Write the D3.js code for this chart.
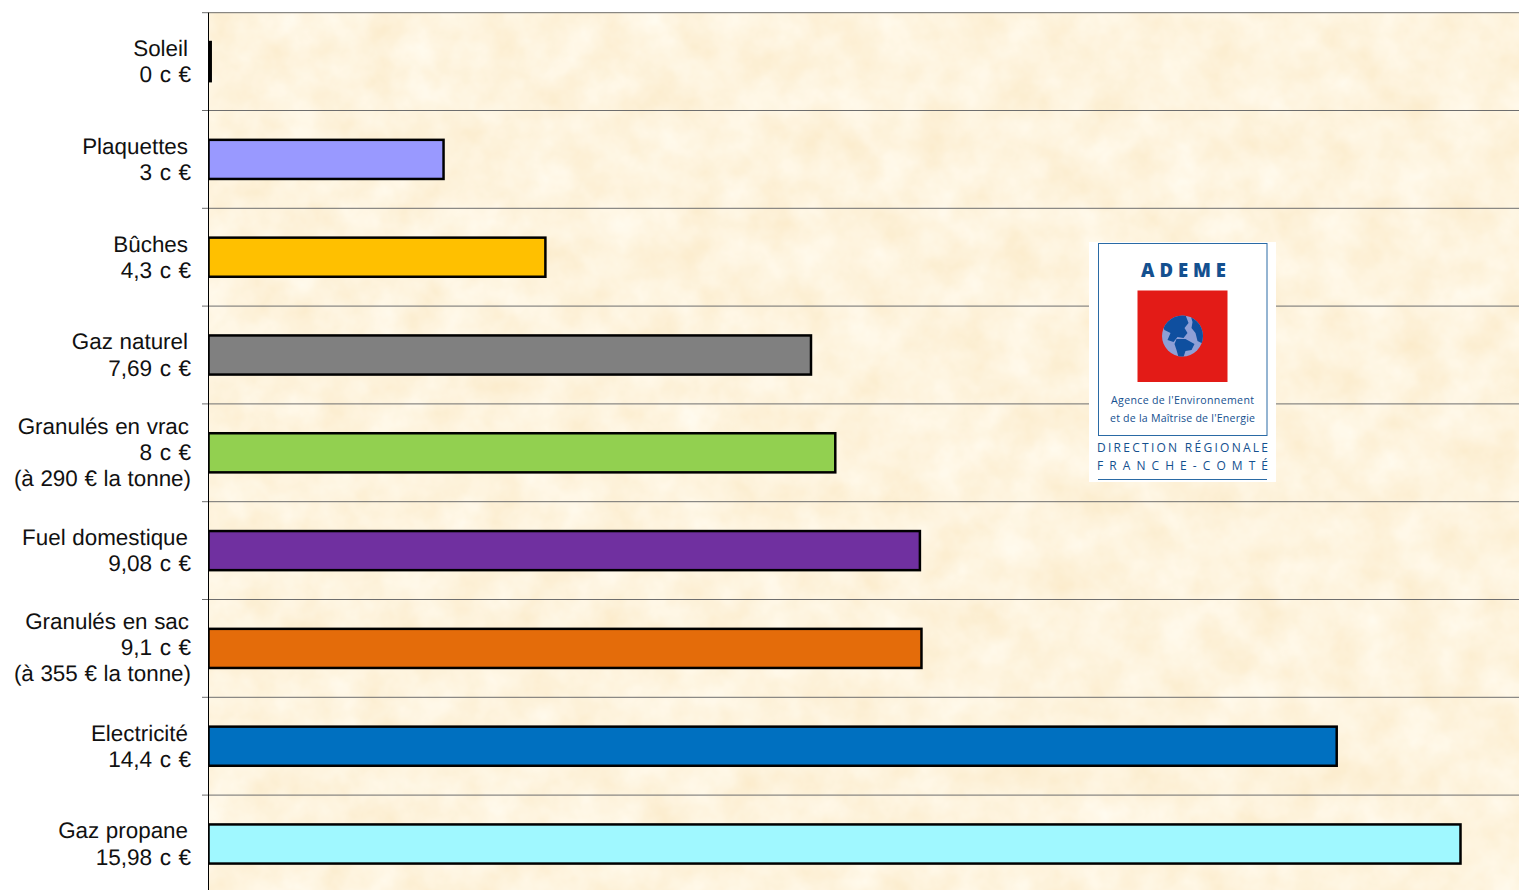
<!DOCTYPE html>
<html lang="fr">
<head>
<meta charset="utf-8">
<title>Prix des énergies</title>
<script src="https://cdn.jsdelivr.net/npm/d3@7"></script>
<style>
    html, body { margin: 0; padding: 0; background: #fff; overflow: hidden; }
    svg { display: block; }
    .label { font-family: "Liberation Sans", Arial, sans-serif; font-size: 22.4px; word-spacing: 0.4px; fill: #111; text-rendering: geometricPrecision; }
    .label.value { font-size: 22.6px; word-spacing: 1.2px; }
    .logo-text { font-family: "Open Sans", sans-serif; fill: #14508f; }
</style>
</head>
<body>
<div id="chart"></div>
<script>
// Chart data
const categories = ["Soleil", "Plaquettes", "Bûches", "Gaz naturel", "Granulés en vrac", "Fuel domestique", "Granulés en sac", "Electricité", "Gaz propane"];
const values = [0, 3, 4.3, 7.69, 8, 9.08, 9.1, 14.4, 15.98];
const valueLabels = ["0 c €", "3 c €", "4,3 c €", "7,69 c €", "8 c €", "9,08 c €", "9,1 c €", "14,4 c €", "15,98 c €"];
const notes = ["", "", "", "", "(à 290 € la tonne)", "", "(à 355 € la tonne)", "", ""];
const barColors = ["#000000", "#9999ff", "#ffc000", "#808080", "#92d050", "#7030a0", "#e46c0a", "#0070c0", "#a0f8ff"];

const width = 1519;
const height = 890;
const margin = { top: 12.7, left: 208.5 };

const svg = d3.select("#chart")
    .append("svg")
    .attr("width", width)
    .attr("height", height);

const defs = svg.append("defs");

// Parchment texture for the plot background
const paper = defs.append("filter")
    .attr("id", "paper")
    .attr("x", 0).attr("y", 0).attr("width", "100%").attr("height", "100%")
    .attr("color-interpolation-filters", "sRGB");
paper.append("feTurbulence")
    .attr("type", "fractalNoise")
    .attr("baseFrequency", 0.025)
    .attr("numOctaves", 4)
    .attr("seed", 7);
paper.append("feColorMatrix")
    .attr("type", "matrix")
    .attr("values", "0.02 0 0 0 0.985  0.07 0 0 0 0.92  0.16 0 0 0 0.79  0 0 0 0 1");

defs.append("clipPath")
    .attr("id", "plot-clip")
    .append("rect")
    .attr("x", margin.left - 0.5)
    .attr("y", 0)
    .attr("width", width)
    .attr("height", height);

// Scales
const xScale = d3.scaleLinear()
    .domain([0, 15.98])
    .range([margin.left, 1460.5]);

const yScale = d3.scaleBand()
    .domain(categories)
    .range([margin.top, margin.top + 97.8 * categories.length])
    .paddingInner(0.6)
    .paddingOuter(0.3);

const rowTop = d => yScale(d) - yScale.step() * 0.3;
const rowMiddle = d => yScale(d) + yScale.bandwidth() / 2;

// Background
svg.append("rect")
    .attr("x", margin.left)
    .attr("y", margin.top)
    .attr("width", width - margin.left)
    .attr("height", height - margin.top)
    .attr("filter", "url(#paper)");

// Grid lines between the rows, with their tick on the left
svg.append("g")
    .selectAll("line")
    .data(categories)
    .enter().append("line")
    .attr("x1", margin.left - 6.5)
    .attr("x2", width)
    .attr("y1", d => rowTop(d))
    .attr("y2", d => rowTop(d))
    .attr("stroke", "#6e6e6e")
    .attr("stroke-width", 1);

// Bars
svg.append("g")
    .attr("clip-path", "url(#plot-clip)")
    .selectAll("rect")
    .data(categories)
    .enter().append("rect")
    .attr("x", xScale(0))
    .attr("y", d => yScale(d))
    .attr("width", (d, i) => Math.max(xScale(values[i]) - xScale(0), 2.2)) // zero value still shows a thin bar
    .attr("height", yScale.bandwidth())
    .attr("fill", (d, i) => barColors[i])
    .attr("stroke", "#000")
    .attr("stroke-width", 2.5);

// Vertical axis line
svg.append("line")
    .attr("x1", margin.left)
    .attr("x2", margin.left)
    .attr("y1", margin.top)
    .attr("y2", height)
    .attr("stroke", "#000")
    .attr("stroke-width", 1);

// Category labels, two or three lines
const labels = svg.append("g").selectAll("g")
    .data(categories)
    .enter().append("g")
    .attr("transform", d => `translate(0,${rowMiddle(d)})`);

labels.append("text")
    .attr("class", "label")
    .attr("x", (d, i) => notes[i] ? 189 : 188)
    .attr("y", (d, i) => notes[i] ? -19 : -5.6)
    .attr("text-anchor", "end")
    .text(d => d);

labels.append("text")
    .attr("class", "label value")
    .attr("x", 191)
    .attr("y", (d, i) => notes[i] ? 7 : 20.5)
    .attr("text-anchor", "end")
    .text((d, i) => valueLabels[i]);

labels.filter((d, i) => notes[i] !== "").append("text")
    .attr("class", "label")
    .attr("x", 191)
    .attr("y", 33)
    .attr("text-anchor", "end")
    .text(d => notes[categories.indexOf(d)]);

// ADEME logo
const logo = svg.append("g").attr("transform", "translate(1089,242)");

logo.append("rect").attr("width", 187).attr("height", 240).attr("fill", "#fff");
logo.append("rect")
    .attr("x", 9.5).attr("y", 1.5)
    .attr("width", 168.5).attr("height", 192)
    .attr("fill", "none")
    .attr("stroke", "#2a6aa5")
    .attr("stroke-width", 1);
logo.append("rect")
    .attr("x", 48.5).attr("y", 48.5)
    .attr("width", 90).attr("height", 91.5)
    .attr("fill", "#e31b17");

// Globe: light ocean with dark continents
const globe = logo.append("g").attr("transform", "translate(93.5,94)");
defs.append("clipPath").attr("id", "globe-clip").append("circle").attr("r", 20.5);
globe.append("circle").attr("r", 20.5).attr("fill", "#8e9fd6");
const land = globe.append("g").attr("clip-path", "url(#globe-clip)").attr("fill", "#0f4f9f");
land.append("path").attr("d", "M-21,-12 L-8,-21 L3,-21 L6,-13 L2,-8 L5,-3 L1,2 L-5,1 L-9,6 L-15,4 L-12,-3 L-18,-6 Z");
land.append("path").attr("d", "M-6,3 L3,3 L12,8 L9,14 L3,15 L1,21 L-4,21 L-6,14 L-8,8 Z");
land.append("path").attr("d", "M8,-21 L21,-13 L21,8 L15,5 L13,-3 L9,-8 L10,-14 Z");

// Logo texts, each fitted to its measured width
const logoTexts = [
    { text: "ADEME", x: 52, y: 34.5, w: 85, size: 18.5, weight: 800 },
    { text: "Agence de l'Environnement", x: 22, y: 161.5, w: 143, size: 10.6, weight: 400 },
    { text: "et de la Maîtrise de l'Energie", x: 21, y: 180, w: 145, size: 10.6, weight: 400 },
    { text: "DIRECTION RÉGIONALE", x: 8, y: 210, w: 171, size: 12, weight: 400 },
    { text: "FRANCHE-COMTÉ", x: 8, y: 227.5, w: 171, size: 12, weight: 400 }
];

logo.selectAll("text")
    .data(logoTexts)
    .enter().append("text")
    .attr("class", "logo-text")
    .attr("x", d => d.x)
    .attr("y", d => d.y)
    .attr("textLength", d => d.w)
    .attr("lengthAdjust", "spacing")
    .style("font-size", d => d.size + "px")
    .style("font-weight", d => d.weight)
    .text(d => d.text);

logo.append("line")
    .attr("x1", 9).attr("x2", 178)
    .attr("y1", 237.5).attr("y2", 237.5)
    .attr("stroke", "#2a6aa5")
    .attr("stroke-width", 1);
</script>
</body>
</html>
